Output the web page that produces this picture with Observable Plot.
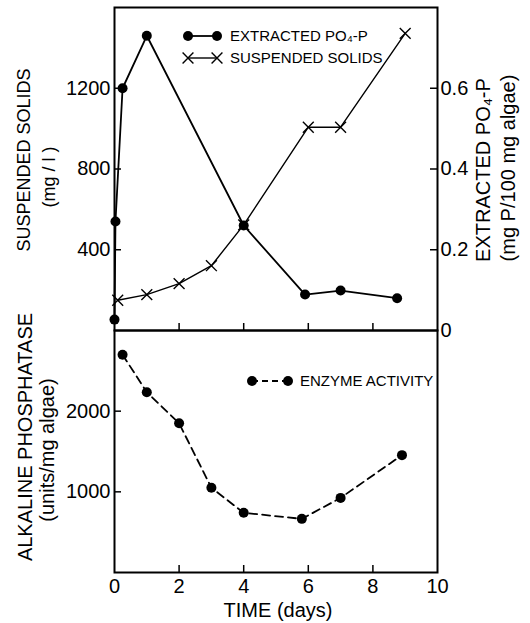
<!DOCTYPE html>
<html><head><meta charset="utf-8">
<script src="https://cdn.jsdelivr.net/npm/d3@7"></script>
<script src="https://cdn.jsdelivr.net/npm/@observablehq/plot@0.6"></script>
<style>
body{margin:0;background:#fff;}
#chart{position:relative;width:530px;height:623px;font-family:"Liberation Sans",Arial,sans-serif;}
#chart svg{position:absolute;left:0;top:0;}
</style></head><body><div id="chart"></div>
<script>
// Suspended solids (mg/l) vs time (days)
const ssDays = [0.1, 1, 2, 3, 4, 6, 7, 9];
const ssValues = [150, 178, 232, 321, 523, 1007, 1007, 1472];
// Extracted PO4-P (mg P/100 mg algae)
const po4Days = [0, 0.03, 0.25, 1, 4, 5.9, 7, 8.75];
const po4Values = [0.027, 0.27, 0.60, 0.73, 0.26, 0.089, 0.099, 0.08];
// Alkaline phosphatase (units/mg algae)
const enzDays = [0.25, 1, 2, 3, 4, 5.8, 7, 8.9];
const enzValues = [2700, 2235, 1850, 1050, 740, 665, 925, 1455];
// ticks
const xTicks = [0, 2, 4, 6, 8, 10];
const xInnerTicks = [2, 4, 6, 8];
const ssTicks = [400, 800, 1200];
const po4Ticks = [0, 0.2, 0.4, 0.6];
const enzTicks = [1000, 2000];

const ss = ssDays.map((d, i) => ({day: d, value: ssValues[i]}));
const po4 = po4Days.map((d, i) => ({day: d, value: po4Values[i]}));
const enz = enzDays.map((d, i) => ({day: d, value: enzValues[i]}));

const FONT = '"Liberation Sans", Arial, sans-serif';
const W = 530, H = 623, ML = 114, MR = 93;
const TOP1 = 7, BOT1 = 330, BOT2 = 572;
const frameW = W - ML - MR, h1 = BOT1 - TOP1, h2 = BOT2 - BOT1, TICK = 7;
const common = {
  width: W, height: H, marginLeft: ML, marginRight: MR,
  x: {domain: [0, 10], axis: null},
  style: {background: "transparent", fontFamily: FONT, fontSize: "20px", overflow: "visible", color: "black"}
};
const chart = document.getElementById("chart");
const intFmt = d => String(d);

const p1 = Plot.plot({
  ...common, marginTop: TOP1, marginBottom: H - BOT1,
  y: {domain: [0, 1600], axis: null},
  marks: [
    Plot.axisY(ssTicks, {anchor: "left", tickSize: 0, tickPadding: 4, label: null, tickFormat: intFmt}),
    Plot.tickY(ssTicks, {y: d => d, insetRight: frameW - TICK, stroke: "black", strokeWidth: 1.5}),
    Plot.tickX(xInnerTicks, {x: d => d, insetTop: h1 - TICK, stroke: "black", strokeWidth: 1.5}),
    Plot.line(ss, {x: "day", y: "value", stroke: "black", strokeWidth: 1.4}),
    Plot.dot(ss, {x: "day", y: "value", symbol: "times", r: 5, stroke: "black", strokeWidth: 1.4}),
    Plot.frame({stroke: "black", strokeWidth: 2})
  ]
});
const p2 = Plot.plot({
  ...common, marginTop: TOP1, marginBottom: H - BOT1,
  y: {domain: [0, 0.8], axis: null},
  marks: [
    Plot.axisY(po4Ticks, {anchor: "right", tickSize: 0, tickPadding: 3, label: null,
      tickFormat: d => d === 0 ? "0" : d.toFixed(1)}),
    Plot.tickY(po4Ticks.filter(d => d > 0), {y: d => d, insetLeft: frameW - TICK, stroke: "black", strokeWidth: 1.5}),
    Plot.line(po4, {x: "day", y: "value", stroke: "black", strokeWidth: 1.8}),
    Plot.dot(po4, {x: "day", y: "value", r: 5, fill: "black", stroke: "none"})
  ]
});
const p3 = Plot.plot({
  ...common, marginTop: BOT1, marginBottom: H - BOT2,
  y: {domain: [0, 3000], axis: null},
  marks: [
    Plot.axisY(enzTicks, {anchor: "left", tickSize: 0, tickPadding: 4, label: null, tickFormat: intFmt}),
    Plot.tickY(enzTicks, {y: d => d, insetRight: frameW - TICK, stroke: "black", strokeWidth: 1.5}),
    Plot.axisX(xTicks, {anchor: "bottom", tickSize: 0, tickPadding: 6, label: null}),
    Plot.tickX(xInnerTicks, {x: d => d, insetTop: h2 - TICK, stroke: "black", strokeWidth: 1.5}),
    Plot.line(enz, {x: "day", y: "value", stroke: "black", strokeWidth: 1.8, strokeDasharray: "8,5"}),
    Plot.dot(enz, {x: "day", y: "value", r: 5, fill: "black", stroke: "none"}),
    Plot.frame({stroke: "black", strokeWidth: 2})
  ]
});
chart.append(p1, p2, p3);

// overlay: axis titles and legends
const svg = d3.select(chart).append("svg")
  .attr("width", W).attr("height", H)
  .style("font-family", FONT).style("overflow", "visible");

function vlabel(text, cx, cy, size) {
  svg.append("text").attr("transform", `translate(${cx},${cy}) rotate(-90)`)
    .attr("text-anchor", "middle").attr("dy", "0.36em")
    .attr("font-size", size).attr("fill", "black").text(text);
}
vlabel("SUSPENDED SOLIDS", 24, 160, 18);
vlabel("(mg / l )", 49, 177, 18);
vlabel("ALKALINE PHOSPHATASE", 25, 437, 20);
vlabel("(units/mg algae)", 47, 450, 20);
vlabel("EXTRACTED PO\u2084-P", 483, 170, 20);
vlabel("(mg P/100 mg algae)", 508, 168, 20);
svg.append("text").attr("x", 278).attr("y", 617).attr("text-anchor", "middle")
  .attr("font-size", 20).attr("fill", "black").text("TIME (days)");

const sym = d3.symbol(d3.symbolTimes, 25 * Math.PI)();
// legend: extracted PO4-P
svg.append("line").attr("x1", 188).attr("x2", 217).attr("y1", 36).attr("y2", 36).attr("stroke", "black").attr("stroke-width", 1.8);
[188, 217].forEach(x => svg.append("circle").attr("cx", x).attr("cy", 36).attr("r", 5).attr("fill", "black"));
svg.append("text").attr("x", 230).attr("y", 36).attr("dy", "0.36em").attr("font-size", 15).text("EXTRACTED PO\u2084-P");
// legend: suspended solids
svg.append("line").attr("x1", 188).attr("x2", 217).attr("y1", 58).attr("y2", 58).attr("stroke", "black").attr("stroke-width", 1.4);
[188, 217].forEach(x => svg.append("path").attr("d", sym).attr("transform", `translate(${x},58)`).attr("stroke", "black").attr("stroke-width", 1.4).attr("fill", "none"));
svg.append("text").attr("x", 230).attr("y", 58).attr("dy", "0.36em").attr("font-size", 15).text("SUSPENDED SOLIDS");
// legend: enzyme activity
svg.append("line").attr("x1", 252).attr("x2", 288).attr("y1", 381).attr("y2", 381).attr("stroke", "black").attr("stroke-width", 1.8).attr("stroke-dasharray", "6,4");
[252, 288].forEach(x => svg.append("circle").attr("cx", x).attr("cy", 381).attr("r", 5).attr("fill", "black"));
svg.append("text").attr("x", 300).attr("y", 381).attr("dy", "0.36em").attr("font-size", 15).text("ENZYME ACTIVITY");
</script></body></html>
